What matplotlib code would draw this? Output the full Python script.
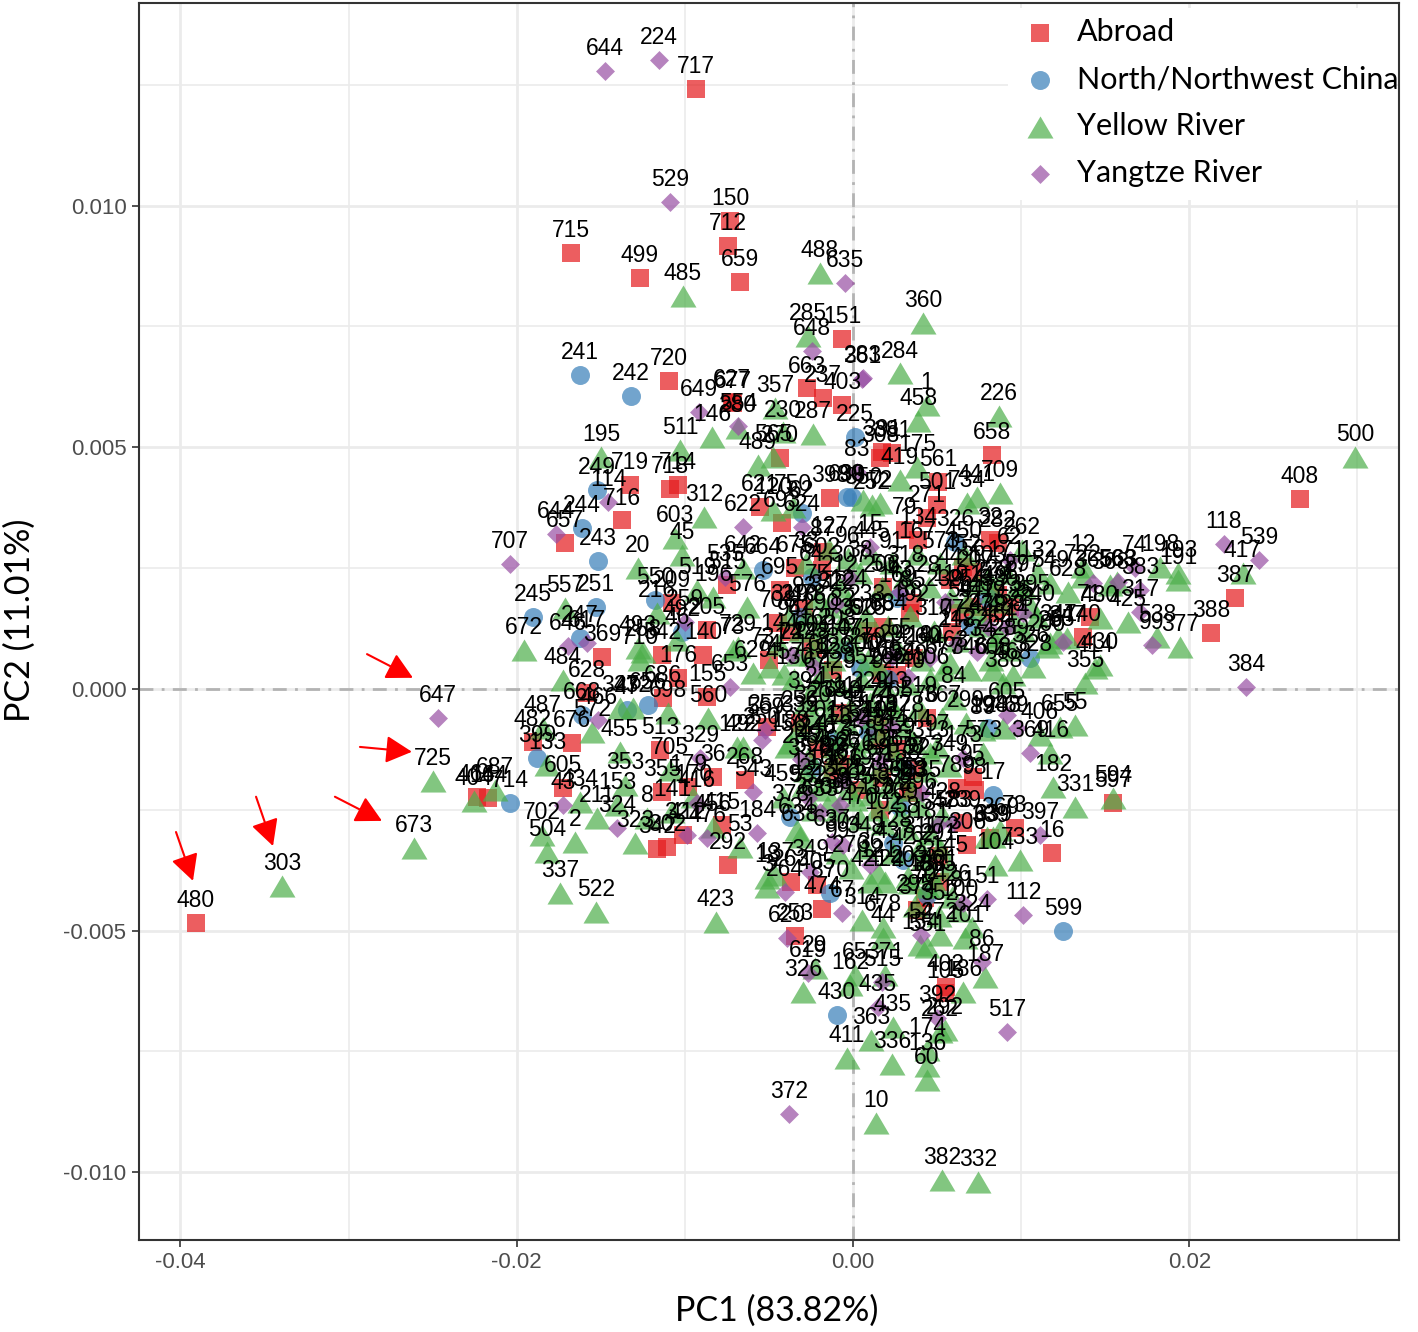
import matplotlib
matplotlib.use("Agg")
import matplotlib.pyplot as plt
from matplotlib.patches import Rectangle

# values: (label, PC1, PC2)
abroad = [
    ("480", -0.03907, -0.00484), ("717", -0.00934, 0.01241), ("150", -0.00731, 0.00968), ("712", -0.00743, 0.00916),
    ("715", -0.01677, 0.00902), ("499", -0.01267, 0.00850), ("659", -0.00672, 0.00842), ("151", -0.00065, 0.00724),
    ("720", -0.01094, 0.00637), ("627", -0.00720, 0.00594), ("677", -0.00714, 0.00591), ("663", -0.00274, 0.00622),
    ("237", -0.00178, 0.00602), ("403", -0.00065, 0.00587), ("270", -0.00434, 0.00478), ("719", -0.01326, 0.00422),
    ("718", -0.01088, 0.00414), ("714", -0.01041, 0.00422), ("716", -0.01374, 0.00349), ("657", -0.01713, 0.00302),
    ("621", -0.00553, 0.00376), ("693", -0.00422, 0.00343), ("398", -0.00137, 0.00395), ("602", -0.00184, 0.00246),
    ("675", -0.00345, 0.00250), ("87", -0.00178, 0.00283), ("515", -0.00749, 0.00215), ("209", -0.01076, 0.00178),
    ("205", -0.00868, 0.00122), ("542", -0.01136, 0.00070), ("140", -0.00892, 0.00070), ("369", -0.01493, 0.00066),
    ("176", -0.01041, 0.00023), ("695", -0.00434, 0.00205), ("708", -0.00446, 0.00136), ("94", -0.00375, 0.00118),
    ("155", -0.00868, -0.00017), ("686", -0.01130, -0.00019), ("628", -0.01582, -0.00008), ("482", -0.01903, -0.00110),
    ("676", -0.01671, -0.00112), ("605", -0.01725, -0.00205), ("513", -0.01148, -0.00126), ("355", -0.01136, -0.00213),
    ("179", -0.00981, -0.00203), ("36", -0.00833, -0.00182), ("268", -0.00642, -0.00188), ("256", -0.00315, -0.00070),
    ("257", -0.00511, -0.00079), ("415", -0.00779, -0.00281), ("321", -0.01011, -0.00302), ("302", -0.01106, -0.00327),
    ("342", -0.01166, -0.00331), ("292", -0.00743, -0.00364), ("263", -0.00369, -0.00399), ("474", -0.00184, -0.00455),
    ("253", -0.00345, -0.00511), ("405", -0.00214, -0.00405), ("83", -0.00119, -0.00168), ("464", -0.02236, -0.00223),
    ("164", -0.02171, -0.00225), ("391", 0.00172, 0.00490), ("381", 0.00232, 0.00488), ("308", 0.00161, 0.00478),
    ("561", 0.00505, 0.00428), ("501", 0.00500, 0.00381), ("271", 0.00440, 0.00354), ("134", 0.00387, 0.00308),
    ("658", 0.00827, 0.00484), ("79", 0.00309, 0.00329), ("282", 0.00862, 0.00302), ("32", 0.00815, 0.00308),
    ("452", 0.00654, 0.00252), ("56", 0.00714, 0.00242), ("50", 0.00178, 0.00211), ("85", 0.00357, 0.00178),
    ("88", 0.00339, 0.00157), ("44", 0.00577, 0.00225), ("59", 0.00636, 0.00157), ("19", 0.00833, 0.00157),
    ("23", 0.00934, 0.00170), ("71", 0.01409, 0.00149), ("740", 0.01368, 0.00108), ("77", 0.00589, 0.00118),
    ("66", 0.00178, 0.00128), ("160", 0.00172, 0.00033), ("154", 0.00262, 0.00029), ("408", 0.02658, 0.00393),
    ("387", 0.02272, 0.00188), ("388", 0.02129, 0.00116), ("76", 0.00440, -0.00060), ("123", 0.00149, -0.00079),
    ("95", 0.00714, -0.00182), ("789", 0.00618, -0.00205), ("98", 0.00726, -0.00209), ("597", 0.01546, -0.00236),
    ("73", 0.00963, -0.00287), ("16", 0.01183, -0.00339), ("306", 0.00678, -0.00323), ("339", 0.00815, -0.00308),
    ("239", 0.00654, -0.00277), ("31", 0.00172, -0.00184), ("57", 0.00369, -0.00168), ("58", 0.00357, -0.00209),
    ("37", 0.00161, -0.00250), ("401", 0.00517, -0.00399), ("70", 0.00428, -0.00432), ("374", 0.00381, -0.00457),
    ("402", 0.00553, -0.00616), ("105", 0.00547, -0.00630),
    ("601", -0.00240, 0.00085), ("128", -0.00120, 0.00040), ("640", -0.00060, -0.00050), ("246", -0.00210, -0.00125),
    ("117", 0.00030, -0.00210), ("625", 0.00090, 0.00120), ("359", 0.00260, -0.00125), ("418", 0.00360, 0.00065),
    ("93", -0.00290, 0.00165), ("731", -0.00500, 0.00060), ("274", 0.00140, -0.00105), ("566", -0.00070, -0.00155),
    ("143", 0.00720, 0.00170), ("571", 0.00860, 0.00195), ("291", 0.00510, -0.00345), ("683", 0.00330, -0.00215),
]

north = [
    ("241", -0.01624, 0.00649), ("242", -0.01320, 0.00606), ("249", -0.01522, 0.00412), ("244", -0.01612, 0.00333),
    ("243", -0.01516, 0.00265), ("245", -0.01903, 0.00149), ("251", -0.01528, 0.00170), ("247", -0.01624, 0.00105),
    ("550", -0.01177, 0.00184), ("664", -0.00535, 0.00246), ("62", -0.00303, 0.00364), ("639", -0.00036, 0.00397),
    ("492", -0.01017, 0.00118), ("210", -0.00315, 0.00149), ("64", -0.00244, 0.00232), ("668", -0.01612, -0.00054),
    ("399", -0.01879, -0.00143), ("47", -0.01344, -0.00043), ("656", -0.01219, -0.00033), ("714", -0.02040, -0.00236),
    ("598", -0.00244, -0.00163), ("378", -0.00375, -0.00265), ("430", -0.00095, -0.00674), ("870", -0.00137, -0.00422),
    ("225", 0.00012, 0.00521), ("90", -0.00006, 0.00397), ("326", 0.00607, 0.00304), ("149", 0.00803, 0.00188),
    ("169", 0.00262, 0.00188), ("24", 0.00696, 0.00132), ("300", 0.00042, 0.00043), ("526", 0.01053, 0.00064),
    ("194", 0.00803, -0.00081), ("78", 0.00279, -0.00244), ("128", 0.00238, -0.00318), ("42", 0.00297, -0.00354),
    ("17", 0.00833, -0.00219), ("52", 0.00440, -0.00426), ("599", 0.01249, -0.00500),
    ("213", -0.00120, -0.00105), ("340", 0.00090, -0.00090), ("266", 0.00210, 0.00020), ("107", -0.00050, 0.00080),
    ("578", 0.00310, -0.00165),
]

yellow = [
    ("500", 0.02985, 0.00480), ("488", -0.00196, 0.00860), ("485", -0.01011, 0.00813), ("360", 0.00416, 0.00757),
    ("285", -0.00268, 0.00730), ("284", 0.00279, 0.00653), ("1", 0.00440, 0.00587), ("458", 0.00387, 0.00554),
    ("226", 0.00868, 0.00565), ("357", -0.00464, 0.00581), ("287", -0.00238, 0.00527), ("511", -0.01029, 0.00494),
    ("146", -0.00839, 0.00521), ("280", -0.00684, 0.00540), ("230", -0.00416, 0.00531), ("489", -0.00565, 0.00463),
    ("565", -0.00476, 0.00480), ("195", -0.01499, 0.00480), ("312", -0.00886, 0.00356), ("45", -0.01017, 0.00277),
    ("603", -0.01059, 0.00312), ("20", -0.01279, 0.00250), ("557", -0.01713, 0.00168), ("672", -0.01957, 0.00081),
    ("216", -0.01166, 0.00157), ("519", -0.00928, 0.00205), ("196", -0.00833, 0.00190), ("642", -0.00654, 0.00250),
    ("576", -0.00630, 0.00170), ("750", -0.00357, 0.00376), ("120", -0.00476, 0.00370), ("493", -0.01279, 0.00085),
    ("258", -0.01249, 0.00077), ("710", -0.01267, 0.00060), ("46", -0.01047, 0.00101), ("729", -0.00684, 0.00087),
    ("73", -0.00714, 0.00081), ("629", -0.00595, 0.00033), ("74", -0.00494, 0.00045), ("484", -0.01725, 0.00019),
    ("487", -0.01844, -0.00081), ("572", -0.01552, -0.00089), ("347", -0.01386, -0.00039), ("232", -0.01308, -0.00039),
    ("698", -0.01100, -0.00050), ("560", -0.00862, -0.00060), ("455", -0.01386, -0.00130), ("353", -0.01356, -0.00199),
    ("133", -0.01820, -0.00157), ("434", -0.01624, -0.00234), ("211", -0.01522, -0.00267), ("153", -0.01403, -0.00240),
    ("702", -0.01850, -0.00302), ("504", -0.01820, -0.00337), ("2", -0.01653, -0.00316), ("323", -0.01296, -0.00318),
    ("337", -0.01742, -0.00422), ("522", -0.01528, -0.00461), ("423", -0.00815, -0.00482), ("8", -0.01225, -0.00267),
    ("141", -0.01076, -0.00254), ("53", -0.00672, -0.00327), ("456", -0.00833, -0.00285), ("3", -0.00511, -0.00409),
    ("18", -0.00511, -0.00391), ("137", -0.00464, -0.00385), ("326", -0.00297, -0.00627), ("29", -0.00226, -0.00577),
    ("122", -0.00690, -0.00120), ("492", -0.00654, -0.00120), ("170", -0.00951, -0.00223), ("189", -0.00375, -0.00112),
    ("459", -0.00416, -0.00223), ("638", -0.00315, -0.00306), ("634", -0.00333, -0.00292), ("705", -0.01088, -0.00168),
    ("725", -0.02498, -0.00190), ("673", -0.02611, -0.00329), ("303", -0.03396, -0.00407), ("404", -0.02254, -0.00232),
    ("687", -0.02129, -0.00209), ("314", 0.00054, -0.00478), ("44", 0.00178, -0.00515), ("678", 0.00178, -0.00492),
    ("551", 0.00440, -0.00534), ("154", 0.00398, -0.00529), ("272", 0.00517, -0.00509), ("101", 0.00666, -0.00515),
    ("324", 0.00708, -0.00492), ("186", 0.00654, -0.00627), ("187", 0.00785, -0.00596), ("104", 0.00844, -0.00364),
    ("733", 0.00993, -0.00354), ("369", 0.00874, -0.00292), ("63", 0.00797, -0.00306), ("182", 0.01189, -0.00203),
    ("331", 0.01320, -0.00244), ("416", 0.01172, -0.00132), ("406", 0.01112, -0.00095), ("655", 0.01231, -0.00079),
    ("55", 0.01320, -0.00074), ("288", 0.00892, -0.00081), ("594", 0.01546, -0.00225), ("421", 0.00101, -0.00399),
    ("422", 0.00190, -0.00399), ("407", 0.00339, -0.00401), ("313", 0.00458, -0.00132), ("573", 0.00773, -0.00132),
    ("89", 0.00773, -0.00085), ("339", 0.00833, -0.00306), ("435", 0.00238, -0.00699), ("411", -0.00036, -0.00763),
    ("336", 0.00232, -0.00775), ("136", 0.00440, -0.00780), ("60", 0.00440, -0.00809), ("10", 0.00137, -0.00898),
    ("382", 0.00529, -0.01015), ("332", 0.00743, -0.01020), ("363", 0.00107, -0.00726), ("262", 0.00517, -0.00709),
    ("292", 0.00547, -0.00705), ("174", 0.00440, -0.00747), ("65", 0.00012, -0.00591), ("162", -0.00018, -0.00612),
    ("371", 0.00190, -0.00591), ("414", 0.01439, 0.00043), ("355", 0.01380, 0.00012), ("430", 0.01469, 0.00050),
    ("193", 0.01933, 0.00240), ("191", 0.01933, 0.00225), ("198", 0.01826, 0.00252), ("417", 0.02319, 0.00240),
    ("425", 0.01635, 0.00139), ("377", 0.01945, 0.00087), ("538", 0.01808, 0.00108), ("628", 0.01279, 0.00201),
    ("722", 0.01368, 0.00232), ("368", 0.01528, 0.00215), ("12", 0.01368, 0.00252), ("341", 0.01219, 0.00108),
    ("347", 0.01273, 0.00105), ("200", 0.01154, 0.00087), ("480", 0.01469, 0.00147), ("563", 0.01570, 0.00221),
    ("264", 0.00844, 0.00097), ("262", 0.01005, 0.00287), ("228", 0.00833, 0.00201), ("441", 0.00737, 0.00397),
    ("734", 0.00678, 0.00385), ("709", 0.00874, 0.00405), ("175", 0.00381, 0.00459), ("350", 0.00059, 0.00391),
    ("252", 0.00113, 0.00381), ("72", 0.00161, 0.00385), ("419", 0.00279, 0.00432), ("59", 0.00975, 0.00211),
    ("549", 0.01172, 0.00219), ("240", 0.01094, 0.00149), ("25", 0.01172, 0.00095), ("328", 0.01070, 0.00045),
    ("468", 0.00951, 0.00029), ("463", 0.00577, 0.00054), ("608", 0.00833, 0.00039), ("388", 0.00892, 0.00012),
    # dense middle of the cloud
    ("33", -0.0028, 0.0026), ("75", -0.0021, 0.0019), ("127", -0.0014, 0.0029), ("212", -0.0008, 0.0021),
    ("96", -0.0003, 0.0027), ("38", 0.0004, 0.0024), ("445", 0.0011, 0.0028), ("206", 0.0017, 0.0021),
    ("91", 0.0023, 0.0026), ("318", 0.0031, 0.0023), ("167", 0.0038, 0.0028), ("28", 0.0045, 0.0021),
    ("573", 0.0052, 0.0026), ("119", 0.0058, 0.0019), ("450", 0.0066, 0.0028), ("207", 0.0073, 0.0022),
    ("61", -0.0031, 0.0012), ("148", -0.0025, 0.0007), ("290", -0.0019, 0.0013), ("337", -0.0012, 0.0006),
    ("82", -0.0006, 0.0014), ("471", 0.0001, 0.0008), ("233", 0.0008, 0.0015), ("109", 0.0014, 0.0005),
    ("384", 0.0021, 0.0013), ("55", 0.0027, 0.0008), ("192", 0.0034, 0.0015), ("260", 0.0041, 0.0006),
    ("310", 0.0048, 0.0012), ("677", 0.0054, 0.0004), ("142", 0.0062, 0.0010), ("346", 0.0069, 0.0004),
    ("27", 0.0076, 0.0013), ("522", 0.0082, 0.0006), ("130", -0.0035, 0.0002), ("394", -0.0028, -0.0003),
    ("67", -0.0022, 0.0001), ("238", -0.0015, -0.0005), ("429", -0.0009, 0.0001), ("111", -0.0002, -0.0004),
    ("351", 0.0005, 0.0002), ("174", 0.0012, -0.0006), ("92", 0.0018, 0.0001), ("265", 0.0025, -0.0005),
    ("440", 0.0032, 0.0001), ("219", 0.0039, -0.0004), ("106", 0.0046, 0.0002), ("367", 0.0053, -0.0006),
    ("84", 0.0060, -0.0002), ("299", 0.0067, -0.0007), ("156", -0.0039, -0.0012), ("333", -0.0032, -0.0008),
    ("49", -0.0026, -0.0014), ("201", -0.0019, -0.0009), ("462", -0.0012, -0.0015), ("115", -0.0006, -0.0010),
    ("376", 0.0001, -0.0016), ("243", 0.0008, -0.0011), ("68", 0.0015, -0.0017), ("312", 0.0022, -0.0012),
    ("158", 0.0029, -0.0018), ("444", 0.0036, -0.0011), ("227", 0.0043, -0.0017), ("97", 0.0050, -0.0012),
    ("349", 0.0057, -0.0016), ("13", -0.0029, -0.0020), ("280", -0.0023, -0.0025), ("166", -0.0016, -0.0019),
    ("395", -0.0009, -0.0025), ("125", -0.0003, -0.0021), ("470", 0.0004, -0.0027), ("248", 0.0011, -0.0022),
    ("102", 0.0018, -0.0028), ("334", 0.0025, -0.0023), ("58", 0.0032, -0.0029), ("296", 0.0039, -0.0024),
    ("181", 0.0046, -0.0030), ("428", 0.0053, -0.0026), ("99", -0.0009, -0.0034), ("276", -0.0001, -0.0037),
    ("348", 0.0007, -0.0033), ("121", 0.0015, -0.0038), ("437", 0.0024, -0.0034), ("203", 0.0033, -0.0039),
    ("62", 0.0042, -0.0035), ("385", 0.0050, -0.0041), ("145", 0.0057, -0.0037),
    # second pass over the blackest spots
    ("254", 0.0068, 0.0018), ("447", 0.0074, 0.0016), ("103", 0.0080, 0.0023), ("330", 0.0087, 0.0018),
    ("171", 0.0091, 0.0024), ("523", 0.0096, 0.0014), ("277", 0.0101, 0.0021), ("395", 0.0106, 0.0017),
    ("132", 0.0110, 0.0024), ("461", 0.0087, 0.0011), ("289", 0.0094, 0.0008), ("147", 0.0101, 0.0012),
    ("320", -0.0024, -0.0006), ("215", -0.0017, -0.0002), ("472", -0.0011, -0.0012), ("135", -0.0004, -0.0007),
    ("358", 0.0003, -0.0013), ("229", 0.0010, -0.0003), ("116", 0.0016, -0.0009), ("443", 0.0022, -0.0003),
    ("261", 0.0027, -0.0015), ("178", 0.0031, -0.0008), ("354", -0.0028, -0.0017), ("223", -0.0021, -0.0021),
    ("139", -0.0013, -0.0023), ("467", -0.0006, -0.0018), ("305", 0.0001, -0.0023), ("197", 0.0008, -0.0019),
    ("113", 0.0014, -0.0025), ("366", 0.0021, -0.0020), ("269", 0.0028, -0.0026), ("451", 0.0035, -0.0021),
    ("144", -0.0044, 0.0009), ("319", -0.0038, 0.0015), ("222", -0.0033, 0.0007), ("478", -0.0027, 0.0015),
    ("165", -0.0021, 0.0010), ("343", -0.0015, 0.0017), ("208", -0.0009, 0.0010), ("124", -0.0003, 0.0018),
    ("390", 0.0003, 0.0012), ("279", 0.0009, 0.0006), ("457", -0.0041, 0.0003), ("183", -0.0018, 0.0003),
    ("311", 0.0040, -0.0033), ("235", 0.0046, -0.0038), ("172", 0.0052, -0.0033), ("426", 0.0059, -0.0043),
    ("295", 0.0037, -0.0045), ("188", 0.0044, -0.0041), ("352", 0.0051, -0.0047), ("100", 0.0063, -0.0046),
]

yangtze = [
    ("644", -0.01475, 0.01278), ("224", -0.01154, 0.01301), ("529", -0.01088, 0.01007), ("635", -0.00048, 0.00840),
    ("648", -0.00244, 0.00699), ("361", 0.00054, 0.00641), ("649", -0.00916, 0.00573), ("554", -0.00684, 0.00544),
    ("644", -0.01766, 0.00321), ("114", -0.01457, 0.00387), ("707", -0.02040, 0.00258), ("622", -0.00654, 0.00335),
    ("624", -0.00303, 0.00335), ("535", -0.00761, 0.00232), ("259", -0.00999, 0.00139), ("646", -0.01695, 0.00089),
    ("617", -0.01582, 0.00095), ("653", -0.00731, 0.00004), ("647", -0.02468, -0.00060), ("466", -0.01516, -0.00064),
    ("43", -0.01725, -0.00240), ("324", -0.01403, -0.00287), ("412", -0.00987, -0.00302), ("476", -0.00868, -0.00308),
    ("184", -0.00571, -0.00298), ("543", -0.00595, -0.00213), ("250", -0.00541, -0.00105), ("569", -0.00523, -0.00085),
    ("329", -0.00910, -0.00143), ("416", -0.00928, -0.00236), ("532", -0.00268, -0.00225), ("633", -0.00196, -0.00254),
    ("35", -0.00077, -0.00240), ("637", -0.00125, -0.00316), ("304", -0.00059, -0.00323), ("349", -0.00256, -0.00378),
    ("264", -0.00404, -0.00420), ("67", -0.00065, -0.00463), ("620", -0.00392, -0.00515), ("619", -0.00268, -0.00587),
    ("515", 0.00172, -0.00606), ("435", 0.00149, -0.00658), ("517", 0.00916, -0.00709), ("112", 0.01011, -0.00467),
    ("51", 0.00797, -0.00434), ("81", 0.00654, -0.00443), ("54", 0.00404, -0.00509), ("86", 0.00767, -0.00565),
    ("392", 0.00500, -0.00680), ("397", 0.01112, -0.00302), ("369", 0.01053, -0.00132), ("69", 0.00975, -0.00081),
    ("605", 0.00916, -0.00054), ("547", 0.00505, -0.00281), ("583", 0.00595, -0.00277), ("173", 0.00654, -0.00143),
    ("192", 0.00232, -0.00079), ("36", 0.00101, -0.00364), ("372", -0.00381, -0.00879), ("283", 0.00059, 0.00643),
    ("83", 0.00024, 0.00449), ("15", 0.00101, 0.00294), ("239", 0.00547, 0.00180), ("62", 0.00934, 0.00267),
    ("365", 0.01427, 0.00219), ("563", 0.01576, 0.00221), ("74", 0.01677, 0.00250), ("383", 0.01707, 0.00205),
    ("317", 0.01707, 0.00159), ("99", 0.01778, 0.00091), ("439", 0.00803, 0.00128), ("438", 0.00916, 0.00128),
    ("25", 0.01011, 0.00157), ("65", 0.01249, 0.00097), ("234", 0.00737, 0.00077), ("29", 0.00232, 0.00066),
    ("40", 0.00458, 0.00064), ("118", 0.02206, 0.00300), ("539", 0.02414, 0.00267), ("384", 0.02337, 0.00004),
    ("161", -0.00230, 0.00045), ("322", -0.00100, 0.00175), ("477", 0.00050, -0.00060), ("255", -0.00310, -0.00145),
    ("108", 0.00160, -0.00150), ("389", 0.00330, 0.00025), ("535", 0.00410, -0.00215), ("126", -0.00060, -0.00190),
    ("218", 0.00620, 0.00095), ("74", -0.00370, 0.00070), ("43", 0.00280, 0.00200), ("307", -0.00020, 0.00230),
]

# red arrows pasted on the figure: tail PC1, tail PC2, head PC1, head PC2
arrows = [
    (-0.04026, -0.00296, -0.03925, -0.00397),
    (-0.03550, -0.00223, -0.03449, -0.00325),
    (-0.03081, -0.00223, -0.02801, -0.00273),
    (-0.02932, -0.00120, -0.02623, -0.00130),
    (-0.02890, 0.00072, -0.02617, 0.00023),
]

x_ticks = [-0.04, -0.02, 0.0, 0.02]
x_tick_labels = ["-0.04", "-0.02", "0.00", "0.02"]
x_minor = [-0.03, -0.01, 0.01, 0.03]
y_ticks = [-0.010, -0.005, 0.0, 0.005, 0.010]
y_tick_labels = ["-0.010", "-0.005", "0.000", "0.005", "0.010"]
y_minor = [-0.0075, -0.0025, 0.0025, 0.0075, 0.0125]

W, H = 1418, 1332
TRIANGLE = [(-1, -0.85), (1, -0.85), (0, 0.85)]

groups = [
    ("Abroad", abroad, "s", 187, "#E41A1C"),
    ("North/Northwest China", north, "o", 187, "#377EB8"),
    ("Yellow River", yellow, TRIANGLE, 350, "#4DAF4A"),
    ("Yangtze River", yangtze, "D", 93, "#984EA3"),
]

fig = plt.figure(figsize=(W / 100, H / 100), dpi=100)
ax = fig.add_axes([139 / W, 1 - 1240 / H, (1399 - 139) / W, (1240 - 3) / H])
ax.set_xlim(-0.04246, 0.03247)
ax.set_ylim(-0.0114, 0.01419)

ax.set_axisbelow(True)
ax.set_xticks(x_ticks, x_tick_labels)
ax.set_yticks(y_ticks, y_tick_labels)
ax.set_xticks(x_minor, minor=True)
ax.set_yticks(y_minor, minor=True)
ax.grid(True, which="major", color="#EBEBEB", lw=2.0)
ax.grid(True, which="minor", color="#EBEBEB", lw=1.2)
ax.tick_params(which="minor", length=0)
ax.tick_params(which="major", length=5, width=1.2, color="#333333", labelcolor="#4D4D4D", labelsize=16, pad=4)
for lab in ax.get_xticklabels() + ax.get_yticklabels():
    lab.set_fontfamily("Liberation Sans")
for spine in ax.spines.values():
    spine.set_color("#333333")
    spine.set_linewidth(1.5)

ax.axhline(0, color="#B3B3B3", lw=2.0, ls=(0, (5, 3, 1, 3)), zorder=1.5)
ax.axvline(0, color="#B3B3B3", lw=2.0, ls=(0, (5, 3, 1, 3)), zorder=1.5)

for name, rows, marker, size, color in groups:
    ax.scatter([r[1] for r in rows], [r[2] for r in rows], marker=marker, s=size, color=color,
               alpha=0.7, linewidths=0, label=name, zorder=2)

for name, rows, marker, size, color in groups:
    for label, pc1, pc2 in rows:
        ax.annotate(label, (pc1, pc2), xytext=(0, 16), textcoords="offset points", ha="center", va="center",
                    fontsize=16.5, family="Liberation Sans", color="black", zorder=3)

for x0, y0, x1, y1 in arrows:
    ax.annotate("", xy=(x1, y1), xytext=(x0, y0), zorder=4,
                arrowprops=dict(arrowstyle="-|>,head_length=0.8,head_width=0.42", mutation_scale=20,
                                color="#FF0000", lw=1.5, shrinkA=0, shrinkB=0))

# legend sits on a white box, it hides the grid behind it
ax.add_patch(Rectangle((1008 / W, 1 - 200 / H), 388 / W, 192 / H, transform=fig.transFigure,
                       facecolor="white", edgecolor="none", zorder=5))
handles, names = ax.get_legend_handles_labels()
leg = fig.legend(handles, names, loc="upper left", bbox_to_anchor=(994 / W, 1 - 3 / H), frameon=False,
                 prop={"family": "Lato", "size": 22}, labelspacing=0.62, handletextpad=0.22,
                 borderpad=0, scatterpoints=1)
leg.set_zorder(6)

fig.text(777 / W, 1 - 1311 / H, "PC1 (83.82%)", ha="center", va="center", fontsize=24.5, family="Lato")
fig.text(20 / W, 1 - 620 / H, "PC2 (11.01%)", ha="center", va="center", rotation=90, fontsize=24.5, family="Lato")

fig.savefig("out.png", dpi=100)
